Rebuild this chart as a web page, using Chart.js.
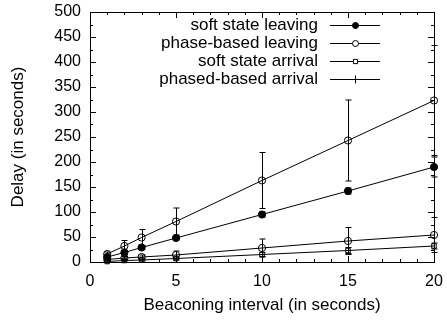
<!DOCTYPE html>
<html>
<head>
<meta charset="utf-8">
<script src="https://cdn.jsdelivr.net/npm/chart.js@4/dist/chart.umd.min.js"></script>
<style>
  html, body { margin: 0; padding: 0; background: #fff; }
  #wrap { width: 447px; height: 320px; }
</style>
</head>
<body>
<div id="wrap"><canvas id="delayChart"></canvas></div>
<script>
// ==== DATA ====
const intervals = [1, 2, 3, 5, 10, 15, 20];
const xTicks = [0, 5, 10, 15, 20];
const yTicks = [0, 50, 100, 150, 200, 250, 300, 350, 400, 450, 500];

const softLeaving = [10, 19, 29, 48, 95, 142, 190];
const softLeavingErr = [2, 3, 3, 4, 5, 6, 20];
const phaseLeaving = [16, 32, 49, 81, 163, 243, 323];
const phaseLeavingErr = [4, 11, 16, 27, 56, 81, 110];
const softArrival = [1, 3, 4, 7, 15, 23, 32];
const softArrivalErr = [1, 1, 2, 3, 4, 6, 6];
const phaseArrival = [5, 8, 10, 14, 28, 42, 54];
const phaseArrivalErr = [2, 3, 4, 8, 18, 27, 35];

const FONT = "'Liberation Sans', Arial, sans-serif";

function toPoints(values) {
  return intervals.map((x, i) => ({ x: x, y: values[i] }));
}

function makeSet(label, values, errs, style, filled, legendStyle) {
  return {
    label: label,
    data: toPoints(values),
    errors: errs,
    filled: filled,
    legendStyle: legendStyle || style,
    borderColor: "#000",
    backgroundColor: filled ? "#000" : "#fff",
    pointBorderColor: "#000",
    pointBackgroundColor: filled ? "#000" : "rgba(0,0,0,0)",
    pointStyle: style,
    pointRadius: style === "rect" ? 3.2 : 3.6,
    pointBorderWidth: 1,
    borderWidth: 1,
    showLine: true,
    clip: false,
  };
}

// ==== PLUGIN: khung, vạch chia hướng vào trong, thanh lỗi, chú thích ====
const gnuplotLook = {
  id: "gnuplotLook",
  afterDatasetsDraw(chart) {
    const ctx = chart.ctx;
    const a = chart.chartArea;
    const xs = chart.scales.x;
    const ys = chart.scales.y;
    ctx.save();
    ctx.strokeStyle = "#000";
    ctx.lineWidth = 1;

    // error bars
    chart.data.datasets.forEach((ds) => {
      ds.data.forEach((p, i) => {
        const e = ds.errors[i];
        const px = Math.round(xs.getPixelForValue(p.x)) + 0.5;
        const top = ys.getPixelForValue(p.y + e);
        const bot = ys.getPixelForValue(Math.max(0, p.y - e));
        ctx.beginPath();
        ctx.moveTo(px, top);
        ctx.lineTo(px, bot);
        ctx.moveTo(px - 3, top);
        ctx.lineTo(px + 3, top);
        ctx.moveTo(px - 3, bot);
        ctx.lineTo(px + 3, bot);
        ctx.stroke();
      });
    });

    // border
    ctx.strokeRect(Math.round(a.left) + 0.5, Math.round(a.top) + 0.5,
      Math.round(a.right - a.left), Math.round(a.bottom - a.top));

    // x ticks (major 5, minor 1)
    for (let v = 0; v <= 20; v += 1) {
      const px = Math.round(xs.getPixelForValue(v)) + 0.5;
      const len = v % 5 === 0 ? 6 : 3;
      ctx.beginPath();
      ctx.moveTo(px, a.bottom);
      ctx.lineTo(px, a.bottom - len);
      ctx.moveTo(px, a.top);
      ctx.lineTo(px, a.top + len);
      ctx.stroke();
    }
    // y ticks (major 50, minor 25)
    for (let v = 0; v <= 500; v += 25) {
      const py = Math.round(ys.getPixelForValue(v)) + 0.5;
      const len = v % 50 === 0 ? 6 : 3;
      ctx.beginPath();
      ctx.moveTo(a.left, py);
      ctx.lineTo(a.left + len, py);
      ctx.moveTo(a.right, py);
      ctx.lineTo(a.right - len, py);
      ctx.stroke();
    }

    // legend (gnuplot style: text right, sample on the right)
    ctx.font = "17px " + FONT;
    ctx.textAlign = "right";
    ctx.textBaseline = "middle";
    const textRight = a.right - 116;
    chart.data.datasets.forEach((ds, i) => {
      const y = a.top + 13 + i * 18;
      ctx.fillStyle = "#000";
      ctx.fillText(ds.label, textRight, y);
      const x0 = textRight + 12, x1 = textRight + 62;
      ctx.beginPath();
      ctx.moveTo(x0, y + 0.5);
      ctx.lineTo(x1, y + 0.5);
      ctx.stroke();
      const mx = Math.round((x0 + x1) / 2) + 0.5;
      if (ds.legendStyle === "cross") {
        ctx.beginPath();
        ctx.moveTo(mx - 4, y + 0.5);
        ctx.lineTo(mx + 4, y + 0.5);
        ctx.moveTo(mx, y - 3.5);
        ctx.lineTo(mx, y + 4.5);
        ctx.stroke();
      } else {
        ctx.fillStyle = ds.filled ? "#000" : "#fff";
        Chart.helpers.drawPoint(ctx, {
          pointStyle: ds.pointStyle,
          radius: 3,
          borderWidth: 1,
        }, mx, y + 0.5);
      }
    });
    ctx.restore();
  },
};

new Chart(document.getElementById("delayChart").getContext("2d"), {
  type: "scatter",
  data: {
    datasets: [
      makeSet("soft state leaving", softLeaving, softLeavingErr, "circle", true),
      makeSet("phase-based leaving", phaseLeaving, phaseLeavingErr, "circle", false),
      makeSet("soft state arrival", softArrival, softArrivalErr, "rect", false),
      makeSet("phased-based arrival", phaseArrival, phaseArrivalErr, "circle", false, "cross"),
    ],
  },
  options: {
    responsive: true,
    maintainAspectRatio: false,
    animation: false,
    layout: { autoPadding: false, padding: { top: 12, right: 13, left: 0, bottom: 0 } },
    plugins: { legend: { display: false }, tooltip: { enabled: false } },
    scales: {
      x: {
        type: "linear",
        min: 0,
        max: 20,
        afterBuildTicks: (s) => { s.ticks = xTicks.map((v) => ({ value: v })); },
        afterFit: (s) => {
          s.height = 58;
          s.paddingLeft = 0;
          s.paddingRight = 0;
        },
        grid: { display: false, drawTicks: false },
        border: { display: false },
        ticks: { color: "#000", padding: 10, font: { family: FONT, size: 16 } },
        title: {
          display: true,
          text: "Beaconing interval (in seconds)",
          color: "#000",
          font: { family: FONT, size: 17 },
          padding: { top: 2 },
        },
      },
      y: {
        min: 0,
        max: 500,
        afterBuildTicks: (s) => { s.ticks = yTicks.map((v) => ({ value: v })); },
        afterFit: (s) => {
          s.width = 90;
          s.paddingTop = 0;
          s.paddingBottom = 0;
        },
        grid: { display: false, drawTicks: false },
        border: { display: false },
        ticks: { color: "#000", padding: 9, font: { family: FONT, size: 16 } },
        title: {
          display: true,
          text: "Delay (in seconds)",
          color: "#000",
          font: { family: FONT, size: 17 },
          padding: { top: 8, bottom: 6 },
        },
      },
    },
  },
  plugins: [gnuplotLook],
});
</script>
</body>
</html>
